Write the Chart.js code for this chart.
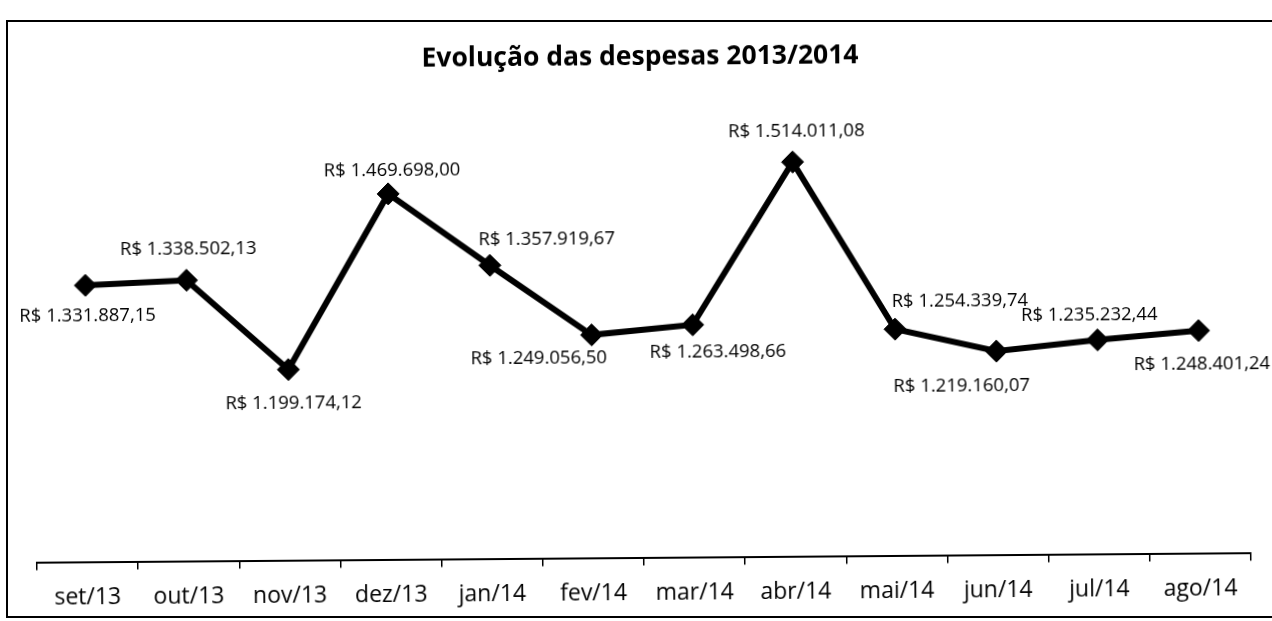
<!DOCTYPE html>
<html lang="pt-BR">
<head>
<meta charset="utf-8">
<title>Evolução das despesas 2013/2014</title>
<script src="https://cdn.jsdelivr.net/npm/chart.js@4.4.1/dist/chart.umd.min.js"></script>
<style>
  html, body { margin: 0; padding: 0; background: #fff; }
  #wrap { position: relative; width: 1272px; height: 621px; overflow: hidden; }
  #frame { position: absolute; left: 6px; top: 20px; width: 1300px; height: 594px; border: 2px solid #000; pointer-events: none; }
  canvas { position: absolute; left: 0; top: 0; transform: rotate(-0.45deg); transform-origin: 50% 50%; }
</style>
</head>
<body>
<div id="wrap">
  <canvas id="despesas" width="1272" height="621"></canvas>
  <div id="frame"></div>
</div>
<script>
const meses = ['set/13', 'out/13', 'nov/13', 'dez/13', 'jan/14', 'fev/14',
               'mar/14', 'abr/14', 'mai/14', 'jun/14', 'jul/14', 'ago/14'];
const despesas = [1331887.15, 1338502.13, 1199174.12, 1469698.00, 1357919.67, 1249056.50,
                  1263498.66, 1514011.08, 1254339.74, 1219160.07, 1235232.44, 1248401.24];

// posição de cada rótulo em relação ao seu ponto (px)
const rotuloDx = [2, 2, 5, 4, 57, -53, 25, 4, 65, -35, -8, 3];
const rotuloDy = [30, -32, 33, -24, -26, 22, 26, -32, -28, 34, -26, 33];

function formatReal(v) {
  const [inteiro, centavos] = v.toFixed(2).split('.');
  return 'R$ ' + inteiro.replace(/\B(?=(\d{3})+(?!\d))/g, '.') + ',' + centavos;
}

// escreve o valor de cada mês junto ao marcador
const rotulos = {
  id: 'rotulos',
  afterDatasetsDraw(chart) {
    const ctx = chart.ctx;
    const pontos = chart.getDatasetMeta(0).data;
    ctx.save();
    ctx.font = '500 18.5px "Open Sans"';
    ctx.fillStyle = '#000';
    ctx.textAlign = 'center';
    ctx.textBaseline = 'middle';
    pontos.forEach((p, i) => {
      ctx.fillText(formatReal(despesas[i]), p.x + rotuloDx[i], p.y + rotuloDy[i] + 1);
    });
    ctx.restore();
  }
};

new Chart(document.getElementById('despesas'), {
  type: 'line',
  data: {
    labels: meses,
    datasets: [{
      data: despesas,
      borderColor: '#000',
      borderWidth: 6,
      backgroundColor: '#000',
      pointStyle: 'rectRot',
      pointRadius: 11,
      pointBackgroundColor: '#000',
      pointBorderColor: '#000',
      pointBorderWidth: 1,
      tension: 0
    }]
  },
  options: {
    responsive: false,
    animation: false,
    layout: {
      autoPadding: false,
      padding: { left: 35, right: 23, top: 20, bottom: 0 }
    },
    plugins: {
      legend: { display: false },
      tooltip: { enabled: false },
      title: {
        display: true,
        text: 'Evolução das despesas 2013/2014',
        color: '#000',
        font: { family: 'Open Sans', size: 26.5, weight: 'bold' },
        padding: { top: 22, bottom: 29 }
      }
    },
    scales: {
      x: {
        offset: true,
        grid: {
          offset: true,
          drawOnChartArea: false,
          color: '#000',
          lineWidth: 1.5,
          tickLength: 7
        },
        border: { display: true, color: '#000', width: 2 },
        ticks: {
          color: '#000',
          font: { family: 'Open Sans', size: 23, weight: 500 },
          padding: 14,
          maxRotation: 0,
          autoSkip: false
        }
      },
      y: {
        display: false,
        min: 903000,
        max: 1607500
      }
    }
  },
  plugins: [rotulos]
});
</script>
</body>
</html>
